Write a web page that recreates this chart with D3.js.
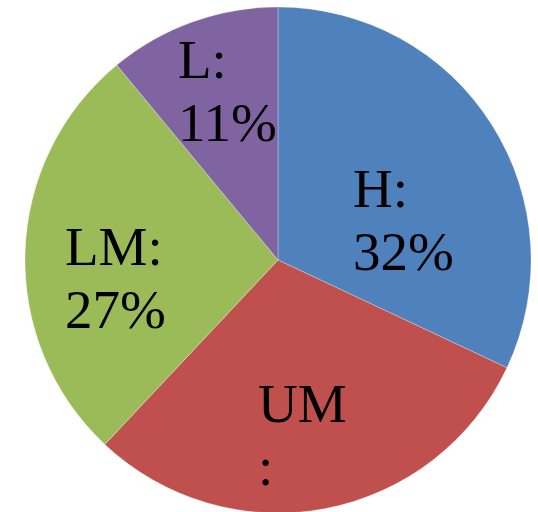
<!DOCTYPE html>
<html>
<head>
<meta charset="utf-8">
<script src="https://cdn.jsdelivr.net/npm/d3@7"></script>
<style>
  html, body { margin: 0; padding: 0; background: #fff; }
  svg { display: block; }
</style>
</head>
<body>
<svg id="chart" width="538" height="512"></svg>
<script>
// Income groups and their shares (percent)
const categories = ["H", "UM", "LM", "L"];
const shares = [32, 30, 27, 11];
const colors = ["#4F81BD", "#C0504D", "#9BBB59", "#8064A2"];

const width = 538, height = 512;
const cx = 278, cy = 260, radius = 253;

const svg = d3.select("#chart");
const g = svg.append("g").attr("transform", `translate(${cx},${cy})`);

const pie = d3.pie().value(d => d.value).sort(null);
const arc = d3.arc().innerRadius(0).outerRadius(radius);

const data = categories.map((c, i) => ({ name: c, value: shares[i], color: colors[i] }));
const arcs = pie(data);

g.selectAll("path.slice")
  .data(arcs)
  .join("path")
  .attr("class", "slice")
  .attr("d", arc)
  .attr("fill", d => d.data.color)
  .attr("stroke", "rgba(255,255,255,0.35)")
  .attr("stroke-width", 0.8);

// Label block offsets (left edge, first baseline) relative to the pie centre
const labelOffsets = {
  H:  [75, -53],
  UM: [-20, 162],
  LM: [-213, 5],
  L:  [-100, -182]
};
const lineGap = 63;

// Narrow label boxes wrap the text; the UM label runs past the bottom edge,
// so only its visible lines are drawn
const labelLines = {
  H:  d => [d.data.name + ":", d.data.value + "%"],
  UM: d => [d.data.name, ":"],
  LM: d => [d.data.name + ":", d.data.value + "%"],
  L:  d => [d.data.name + ":", d.data.value + "%"]
};

const labels = g.selectAll("text.label")
  .data(arcs)
  .join("text")
  .attr("class", "label")
  .attr("font-family", "'Liberation Serif', 'Times New Roman', serif")
  .attr("font-size", 55)
  .attr("fill", "#000");

labels.each(function(d) {
  const [ox, oy] = labelOffsets[d.data.name];
  const lines = labelLines[d.data.name](d);
  d3.select(this).selectAll("tspan")
    .data(lines)
    .join("tspan")
    .attr("x", ox)
    .attr("y", (l, i) => oy + i * lineGap)
    .text(l => l);
});
</script>
</body>
</html>
